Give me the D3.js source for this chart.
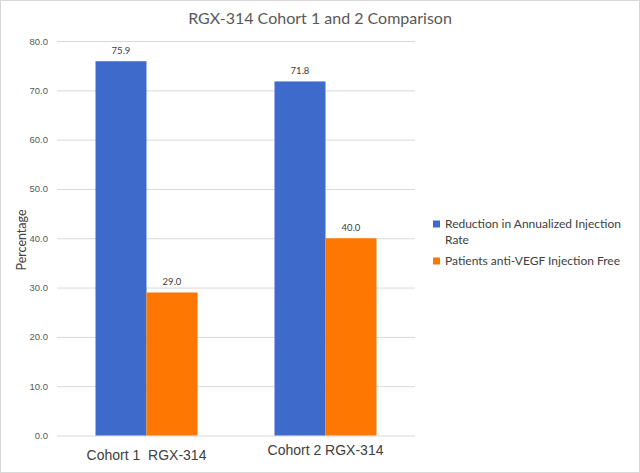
<!DOCTYPE html>
<html><head><meta charset="utf-8">
<script src="https://cdn.jsdelivr.net/npm/d3@7"></script>
<style>
html,body{margin:0;padding:0;background:#fff;}
svg{display:block;font-family:Lato,"Open Sans",sans-serif;}
</style></head>
<body><svg id="c" width="640" height="473"></svg>
<script>
const categories = ["Cohort 1  RGX-314", "Cohort 2 RGX-314"];
const seriesNames = ["Reduction in Annualized Injection Rate", "Patients anti-VEGF Injection Free"];
const reductionRate = [75.9, 71.8];
const injectionFree = [29.0, 40.0];
const yTicks = [0, 10, 20, 30, 40, 50, 60, 70, 80];
const colors = ["#3e6bcb", "#fd7702"];
const series = [reductionRate, injectionFree];

const svg = d3.select("#c");
const W = 640, H = 473;
svg.append("rect").attr("x",0.5).attr("y",0.5).attr("width",W-1).attr("height",H-1)
  .attr("fill","#fff").attr("stroke","#d9d9d9");

const m = {left:57, right:225, top:41, bottom:37.5};
const x = d3.scaleBand().domain(categories).range([m.left, W-m.right]).paddingInner(0).paddingOuter(0);
const y = d3.scaleLinear().domain([0,80]).range([H-m.bottom, m.top]);
const bw = 51;
const xs = d3.scaleBand().domain(d3.range(series.length)).range([0, 2*bw]);

// gridlines
const gAxis = svg.append("g").attr("transform",`translate(${m.left},0)`)
  .call(d3.axisLeft(y).tickValues(yTicks).tickFormat(d3.format(".1f")).tickSize(-(W-m.right-m.left)).tickPadding(9));
gAxis.select(".domain").remove();
gAxis.selectAll(".tick line").attr("stroke","#d9d9d9").attr("stroke-width",1);
gAxis.selectAll(".tick text").attr("fill","#595959").attr("font-size","9.5px");

// bars
series.forEach((vals, si) => {
  svg.append("g").selectAll("rect").data(vals).join("rect")
    .attr("x", (d,i) => x(categories[i]) + x.bandwidth()/2 - bw + xs(si))
    .attr("y", d => y(d))
    .attr("width", xs.bandwidth())
    .attr("height", d => y(0) - y(d))
    .attr("fill", colors[si]);
  svg.append("g").selectAll("text").data(vals).join("text")
    .attr("x", (d,i) => x(categories[i]) + x.bandwidth()/2 - bw + xs(si) + xs.bandwidth()/2)
    .attr("y", d => y(d) - 7.5)
    .attr("text-anchor","middle").attr("font-size","9.5px").attr("fill","#404040")
    .text(d => d3.format(".1f")(d));
});

// x axis labels
const gx = svg.append("g").attr("transform",`translate(0,${y(0)})`)
  .call(d3.axisBottom(x).tickSize(0).tickPadding(0));
gx.select(".domain").remove();
gx.selectAll(".tick text").attr("fill","#404040").attr("font-size","14px")
  .style("white-space","pre").attr("xml:space","preserve")
  .attr("dy", (d,i) => i === 0 ? "1.73em" : "1.38em");

// title
svg.append("text").attr("x",320).attr("y",24).attr("text-anchor","middle")
  .attr("font-size","16px").attr("fill","#595959").text("RGX-314 Cohort 1 and 2 Comparison");

// y label
svg.append("text").attr("transform","translate(26,240) rotate(-90)").attr("text-anchor","middle")
  .attr("font-size","12.5px").attr("fill","#404040").text("Percentage");

// legend
const lg = svg.append("g").attr("transform","translate(433,0)");
const legendLines = [["Reduction in Annualized Injection","Rate"],["Patients anti-VEGF Injection Free"]];
const legendY = [228, 265];
legendLines.forEach((lines, i) => {
  lg.append("rect").attr("x",0).attr("y",legendY[i]-7.5).attr("width",7).attr("height",7).attr("fill",colors[i]);
  const t = lg.append("text").attr("x",12).attr("y",legendY[i]).attr("font-size","12px").attr("fill","#404040");
  lines.forEach((l,j) => t.append("tspan").attr("x",12).attr("dy", j===0?0:15.5).text(l));
});
</script></body></html>
